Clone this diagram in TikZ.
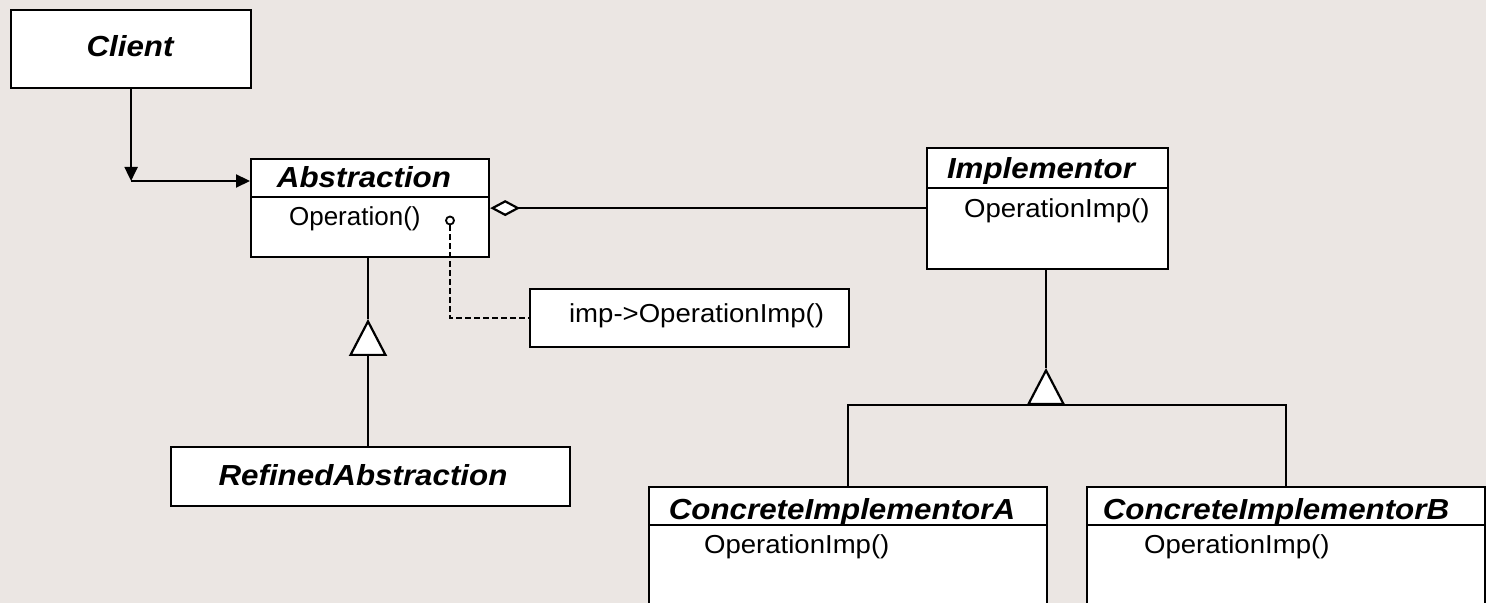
\documentclass[tikz,border=0pt]{standalone}
\usepackage{fontspec}
\setmainfont{Liberation Sans}
\newfontfamily\titlefont[FakeStretch=1.08]{Liberation Sans}
\newfontfamily\bodyfont[FakeStretch=1.06]{Liberation Sans}
\newfontfamily\plainfont{Liberation Sans}
\usetikzlibrary{arrows.meta}
\definecolor{bg}{RGB}{235,230,227}
\begin{document}
\begin{tikzpicture}[x=0.5pt, y=-0.5pt, line width=1.1pt,
  box/.style={draw, fill=white, inner sep=0pt, anchor=north west},
  ttl/.style={font={\titlefont\fontsize{14.5pt}{17pt}\selectfont\bfseries\itshape}, inner sep=0pt, anchor=base},
  opx/.style={font={\bodyfont\fontsize{13pt}{16pt}\selectfont}, inner sep=0pt, anchor=base west},
  gen/.style={-{Triangle[fill=white, length=18.5pt, width=19pt]}},
  nav/.style={-{Triangle[length=7pt, width=6.5pt]}}]
\useasboundingbox (0,0) rectangle (1486,603);
\fill[bg] (0,0) rectangle (1486,603);
\begin{scope}
\clip (0,0) rectangle (1486,603);
% boxes
\node[box, minimum width=120pt, minimum height=39pt] (client) at (10,9) {};
\node[box, minimum width=119pt, minimum height=49pt] (abs) at (250,158) {};
\node[box, minimum width=159.5pt, minimum height=29pt] (note) at (529,288) {};
\node[box, minimum width=120.5pt, minimum height=60.5pt] (impl) at (926,147) {};
\node[box, minimum width=199.5pt, minimum height=29.5pt] (refined) at (170,446) {};
\node[box, minimum width=199pt, minimum height=70pt] (cia) at (648,486) {};
\node[box, minimum width=199pt, minimum height=70pt] (cib) at (1086,486) {};
% compartment dividers
\draw (abs.west |- 0,197) -- (abs.east |- 0,197);
\draw (impl.west |- 0,188) -- (impl.east |- 0,188);
\draw (cia.west |- 0,525) -- (cia.east |- 0,525);
\draw (cib.west |- 0,525) -- (cib.east |- 0,525);
% titles
\node[ttl] (clientT) at (130,57) {Client};
\node[ttl] (absT) at (364,188) {Abstraction};
\node[ttl] (implT) at (1041,179) {Implementor};
\node[ttl] (refinedT) at (363,485) {RefinedAbstraction};
\node[ttl] (ciaT) at (842,519) {ConcreteImplementorA};
\node[ttl] (cibT) at (1276,519) {ConcreteImplementorB};
% operations
\node[inner sep=0pt, anchor=base west, font={\plainfont\fontsize{13pt}{16pt}\selectfont}] (absOp) at (288,226) {Operation()};
\node[opx] (noteT) at (568,323) {imp->OperationImp()};
\node[opx] (implOp) at (963,218) {OperationImp()};
\node[opx] (ciaOp) at (703,553) {OperationImp()};
\node[opx] (cibOp) at (1143,553) {OperationImp()};
% client navigation
\coordinate (corner) at (client.south |- 0,181);
\draw[nav] (client.south) -- (corner);
\draw[nav] (corner) -- (abs.west |- corner);
% aggregation
\draw[{Diamond[fill=white, length=15pt, width=8pt]}-] (abs.east) -- (impl.west |- abs.east);
% note link
\node[circle, draw, fill=white, inner sep=0pt, minimum size=4pt, line width=0.9pt] (circ) at (450,220.5) {};
\draw[dashed, dash pattern=on 3pt off 1.5pt, line width=0.9pt] (circ.south) |- (note.west);
% generalisation left
\coordinate (apexL) at (368,319);
\draw (abs.south -| apexL) -- (apexL);
\draw[gen] (refined.north -| apexL) -- (apexL);
% generalisation right
\coordinate (bar) at (1046,405);
\coordinate (apexR) at (1046,368);
\draw (impl.south -| apexR) -- (apexR);
\draw (cia.north) -- (cia.north |- bar) -- (cib.north |- bar) -- (cib.north);
\draw[gen] (bar) -- (apexR);
\end{scope}
\end{tikzpicture}
\end{document}
